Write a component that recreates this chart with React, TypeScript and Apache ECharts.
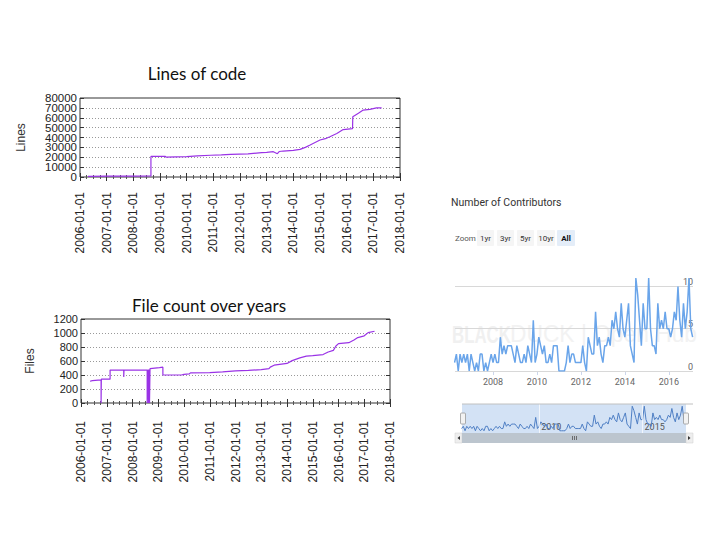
import { useEffect, useRef } from "react"
import * as echarts from "echarts"

// Lines of code (decimal year, lines)
const linesYears = [
  2006.3, 2007.0, 2008.0, 2008.66, 2008.66, 2009.2, 2009.22, 2010.0, 2010.4, 2010.9, 2011.3, 2011.65,
  2012.3, 2012.81, 2013.0, 2013.25, 2013.4, 2013.47, 2013.62, 2014.0, 2014.25, 2014.45, 2014.63, 2015.0,
  2015.2, 2015.37, 2015.63, 2015.87, 2016.22, 2016.23, 2016.44, 2016.62, 2016.87, 2017.12, 2017.31,
]
const linesCount = [
  700, 800, 900, 1000, 20800, 21000, 20200, 20600, 21400, 22000, 22400, 23000,
  23500, 24600, 25000, 25600, 23600, 25800, 26300, 27000, 28000, 30000, 32400, 37500,
  38800, 40800, 44000, 48000, 49000, 61000, 64500, 67800, 68500, 70000, 70000,
]
const linesTicks = [0, 10000, 20000, 30000, 40000, 50000, 60000, 70000, 80000]

// File count (decimal year, files)
const fileYears = [
  2006.35, 2006.44, 2006.44, 2006.78, 2006.78, 2006.79, 2006.79, 2007.13, 2007.13, 2007.66, 2007.66, 2007.67,
  2007.67, 2008.57, 2008.57, 2008.59, 2008.59, 2008.62, 2008.62, 2008.64, 2008.64, 2008.66, 2008.66, 2008.68,
  2008.68, 2009.05, 2009.18, 2009.18, 2009.9, 2010.0, 2010.2, 2010.25, 2011.0, 2011.5, 2012.0, 2012.5,
  2013.0, 2013.3, 2013.35, 2013.5, 2014.0, 2014.2, 2014.5, 2014.75, 2015.0, 2015.4, 2015.6, 2015.8,
  2015.9, 2016.0, 2016.4, 2016.6, 2016.75, 2017.0, 2017.15, 2017.4,
]
const fileCount = [
  310, 320, 330, 330, 0, 0, 340, 340, 470, 470, 370, 370,
  470, 470, 0, 0, 470, 470, 0, 0, 480, 480, 0, 0,
  490, 505, 512, 400, 400, 410, 415, 430, 435, 445, 458, 465,
  478, 490, 512, 540, 565, 605, 645, 670, 678, 692, 728, 752,
  815, 848, 862, 900, 935, 960, 1005, 1025,
]
const fileTicks = [0, 200, 400, 600, 800, 1000, 1200]

// Number of contributors per month, starting April 2006
const contributorStart = 2006.25
const contributors = [
  1, 2, 0, 2, 1, 2, 1, 2, 0, 2,
  1, 0, 1, 0, 2, 2, 0, 1, 0, 1,
  2, 1, 2, 1, 1, 4, 2, 3, 2, 3,
  3, 3, 2, 1, 3, 2, 1, 1, 2, 1,
  3, 2, 1, 6, 1, 2, 4, 3, 2, 3,
  1, 1, 2, 1, 3, 3, 3, 0, 0, 0,
  0, 1, 3, 1, 2, 2, 1, 1, 1, 1,
  3, 1, 0, 4, 3, 2, 2, 7, 3, 4,
  2, 1, 3, 3, 4, 3, 6, 5, 7, 5,
  4, 8, 5, 4, 6, 8, 3, 2, 1, 11,
  9, 6, 3, 8, 5, 5, 11, 5, 3, 3,
  2, 8, 5, 6, 5, 7, 5, 5, 4, 5,
  7, 6, 10, 6, 4, 8, 5, 7, 11, 5,
  4,
]
const contributorYearTicks = [2008, 2010, 2012, 2014, 2016]
const navigatorYearTicks = [2010, 2015]
const contributorGrid = [0, 5, 10]
const zoomButtons = ["1yr", "3yr", "5yr", "10yr", "All"]

const GP_FONT = "'Liberation Sans', Arial, sans-serif"
const GP_NARROW = "'Liberation Sans Narrow', 'Liberation Sans', Arial, sans-serif"
const HC_FONT = "Roboto, 'Open Sans', sans-serif"
const plain = (v: number) => String(v)

function gnuplotAxes(gridIndex: number, ticks: number[], name: string, nameGap: number, yFont: string, yFontSize: number, xMargin: number) {
  const yMax = ticks[ticks.length - 1]
  const yInterval = ticks[1] - ticks[0]
  const tick = { show: true, inside: true, length: 4, lineStyle: { color: "#333" } }
  const minor = { show: true, splitNumber: 4, length: 2, lineStyle: { color: "#555" } }
  const label = (values: number[]) => ({
    customValues: values, fontSize: yFontSize, color: "#222", fontFamily: yFont, margin: 3,
    showMinLabel: true, showMaxLabel: true, hideOverlap: false, formatter: plain,
  })
  const xAxes = [
    {
      gridIndex, type: "value", min: 2006, max: 2018, interval: 1,
      axisLine: { show: false }, splitLine: { show: false },
      axisTick: tick, minorTick: minor,
      axisLabel: {
        rotate: 90, margin: xMargin, fontSize: 12, color: "#222", fontFamily: GP_FONT,
        interval: 0, showMinLabel: true, showMaxLabel: true, hideOverlap: false,
        formatter: (v: number) => `${v}-01-01`,
      },
    },
    {
      gridIndex, type: "value", position: "top", min: 2006, max: 2018, interval: 1,
      axisLine: { show: false }, splitLine: { show: false },
      axisTick: tick, minorTick: minor, axisLabel: { show: false },
    },
  ]
  const yAxes = [
    {
      gridIndex, type: "value", position: "left", min: 0, max: yMax, interval: yInterval,
      name, nameLocation: "middle", nameRotate: 90, nameGap,
      nameTextStyle: { fontSize: 12, color: "#333", fontFamily: yFont },
      axisLine: { show: false }, axisTick: tick,
      splitLine: { show: true, lineStyle: { color: "#999", type: [1, 2], width: 1 } },
      axisLabel: label(ticks.filter((_, i) => i % 2 === 0)),
    },
    {
      gridIndex, type: "value", position: "right", min: 0, max: yMax, interval: yInterval,
      axisLine: { show: false }, axisTick: tick, splitLine: { show: false }, axisLabel: { show: false },
    },
    {
      gridIndex, type: "value", position: "left", offset: 0, min: 0, max: yMax, interval: yInterval,
      axisLine: { show: false }, axisTick: { show: false }, splitLine: { show: false },
      axisLabel: label(ticks.filter((_, i) => i % 2 === 1)),
    },
  ]
  return { xAxes, yAxes }
}

export default function App() {
  const chartRef = useRef<HTMLDivElement>(null)

  useEffect(() => {
    if (!chartRef.current) return
    const chart = echarts.init(chartRef.current, null, { renderer: "svg" })

    const linesAxes = gnuplotAxes(0, linesTicks, "Lines", 53, GP_FONT, 11.5, 15)
    const filesAxes = gnuplotAxes(1, fileTicks, "Files", 45, GP_NARROW, 11, 18)

    const contribData = contributors.map((v, i) => [contributorStart + i / 12, v])

    const buttonX = [477, 497, 517, 537, 557]
    const buttonW = [17, 17, 17, 18, 18]
    const buttons: any[] = []
    zoomButtons.forEach((label, i) => {
      const active = label === "All"
      buttons.push({
        type: "rect", z: 50,
        shape: { x: buttonX[i], y: 230, width: buttonW[i], height: 16, r: 1 },
        style: { fill: active ? "#e4edf8" : "#f5f5f5" },
      })
      buttons.push({
        type: "text", z: 51, x: buttonX[i] + buttonW[i] / 2, y: 238,
        style: {
          text: label, align: "center", verticalAlign: "middle", fill: active ? "#111" : "#333",
          fontSize: 8, fontWeight: active ? "bold" : "normal", fontFamily: HC_FONT,
        },
      })
    })

    const option: any = {
      animation: false,
      backgroundColor: "#fff",
      grid: [
        { left: 80, right: 320, top: 98, bottom: 363, show: true, borderColor: "#333", borderWidth: 1 },
        { left: 81, right: 330, top: 319, bottom: 137, show: true, borderColor: "#333", borderWidth: 1 },
        { left: 455, right: 27, top: 278, bottom: 169 },
        { left: 462, right: 34, top: 404, bottom: 107, show: true, backgroundColor: "#d3e2f5", borderWidth: 0 },
      ],
      xAxis: [
        ...linesAxes.xAxes,
        ...filesAxes.xAxes,
        {
          gridIndex: 2, type: "value", min: 2006.27, max: 2017.1,
          axisLine: { show: false }, splitLine: { show: false },
          axisTick: { show: true, customValues: contributorYearTicks, length: 4, lineStyle: { color: "#ccd6eb" } },
          axisLabel: { customValues: contributorYearTicks, color: "#666", fontSize: 9, margin: 6, fontFamily: HC_FONT, formatter: plain },
        },
        {
          gridIndex: 3, type: "value", min: 2006.27, max: 2017.1,
          axisLine: { show: false }, splitLine: { show: false }, axisTick: { show: false },
          axisLabel: {
            customValues: navigatorYearTicks, inside: true, align: "left", verticalAlign: "middle",
            margin: 6, padding: [0, 0, 0, 2], color: "#555", fontSize: 9, fontFamily: HC_FONT, formatter: plain,
          },
        },
      ],
      yAxis: [
        ...linesAxes.yAxes,
        ...filesAxes.yAxes,
        {
          gridIndex: 2, type: "value", position: "right", min: 0, max: 11,
          axisLine: { show: false }, axisTick: { show: false }, splitLine: { show: false },
          axisLabel: {
            customValues: contributorGrid, inside: true, margin: 0, align: "right", verticalAlign: "bottom",
            color: "#666", fontSize: 9, fontFamily: HC_FONT, formatter: plain,
          },
        },
        { gridIndex: 3, type: "value", show: false, min: -1, max: 12 },
      ],
      series: [
        {
          type: "line", xAxisIndex: 0, yAxisIndex: 0, symbol: "none",
          data: linesYears.map((x, i) => [x, linesCount[i]]),
          lineStyle: { color: "#9a33e6", width: 1.2 },
        },
        {
          type: "line", xAxisIndex: 2, yAxisIndex: 3, symbol: "none",
          data: fileYears.map((x, i) => [x, fileCount[i]]),
          lineStyle: { color: "#9a33e6", width: 1.2 },
        },
        {
          type: "line", xAxisIndex: 4, yAxisIndex: 6, symbol: "none", z: 3,
          data: contribData,
          lineStyle: { color: "#6aa5ea", width: 1.5 },
          markLine: {
            silent: true, symbol: ["none", "none"], label: { show: false }, z: 1,
            lineStyle: { color: "#d8d8d8", type: "solid", width: 1 },
            data: contributorGrid.map((v) => ({ yAxis: v })),
          },
        },
        {
          type: "line", xAxisIndex: 5, yAxisIndex: 7, symbol: "none",
          data: contribData,
          lineStyle: { color: "#4f7fc4", width: 1 },
          markLine: {
            silent: true, symbol: ["none", "none"], label: { show: false },
            lineStyle: { color: "rgba(255,255,255,0.7)", type: "solid", width: 1 },
            data: navigatorYearTicks.map((v) => ({ xAxis: v })),
          },
        },
      ],
      graphic: [
        {
          type: "text", x: 197, y: 73, z: 10,
          style: { text: "Lines of code", align: "center", verticalAlign: "middle", fontSize: 17, fontFamily: "Lato, sans-serif", fill: "#111" },
        },
        {
          type: "text", x: 209, y: 305, z: 10,
          style: { text: "File count over years", align: "center", verticalAlign: "middle", fontSize: 17, fontFamily: "Lato, sans-serif", fill: "#111" },
        },
        {
          type: "text", x: 451, y: 202, z: 10,
          style: { text: "Number of Contributors", verticalAlign: "middle", fontSize: 10.5, fontFamily: HC_FONT, fill: "#333" },
        },
        {
          type: "text", x: 455, y: 238, z: 10,
          style: { text: "Zoom", verticalAlign: "middle", fontSize: 8, fontFamily: HC_FONT, fill: "#555" },
        },
        ...buttons,
        {
          type: "text", x: 452, y: 334, z: 0, scaleX: 0.7,
          style: { text: "BLACK", verticalAlign: "middle", fontSize: 24, fontWeight: "bold", fontFamily: GP_FONT, fill: "#f0f0f0" },
        },
        {
          type: "text", x: 510, y: 334, z: 0, scaleX: 0.95,
          style: { text: "DUCK | Open Hub", verticalAlign: "middle", fontSize: 24, fontFamily: GP_FONT, fill: "#f2f2f2" },
        },
        // navigator chrome
        { type: "line", z: 50, shape: { x1: 462, y1: 404, x2: 693, y2: 404 }, style: { stroke: "#c0c0c0", lineWidth: 1 } },
        { type: "rect", z: 50, shape: { x: 460.5, y: 413, width: 5, height: 11, r: 1 }, style: { fill: "#f2f2f2", stroke: "#999", lineWidth: 0.8 } },
        { type: "rect", z: 50, shape: { x: 683.5, y: 413, width: 5, height: 11, r: 1 }, style: { fill: "#f2f2f2", stroke: "#999", lineWidth: 0.8 } },
        { type: "rect", z: 50, shape: { x: 455, y: 433, width: 7, height: 10 }, style: { fill: "#eeeeee", stroke: "#cccccc", lineWidth: 0.5 } },
        { type: "rect", z: 50, shape: { x: 462, y: 433, width: 224, height: 10 }, style: { fill: "#bcc5ce" } },
        { type: "rect", z: 50, shape: { x: 686, y: 433, width: 7, height: 10 }, style: { fill: "#eeeeee", stroke: "#cccccc", lineWidth: 0.5 } },
        { type: "polygon", z: 51, shape: { points: [[457.5, 438], [460, 436], [460, 440]] }, style: { fill: "#333" } },
        { type: "polygon", z: 51, shape: { points: [[690.5, 438], [688, 436], [688, 440]] }, style: { fill: "#333" } },
        { type: "line", z: 51, shape: { x1: 572.5, y1: 436, x2: 572.5, y2: 440 }, style: { stroke: "#555", lineWidth: 0.8 } },
        { type: "line", z: 51, shape: { x1: 574.5, y1: 436, x2: 574.5, y2: 440 }, style: { stroke: "#555", lineWidth: 0.8 } },
        { type: "line", z: 51, shape: { x1: 576.5, y1: 436, x2: 576.5, y2: 440 }, style: { stroke: "#555", lineWidth: 0.8 } },
      ],
    }

    chart.setOption(option)

    return () => {
      chart.dispose()
    }
  }, [])

  return (
    <div
      ref={chartRef}
      style={{ position: "absolute", left: 0, top: 0, width: 720, height: 540, background: "#fff" }}
    />
  )
}
